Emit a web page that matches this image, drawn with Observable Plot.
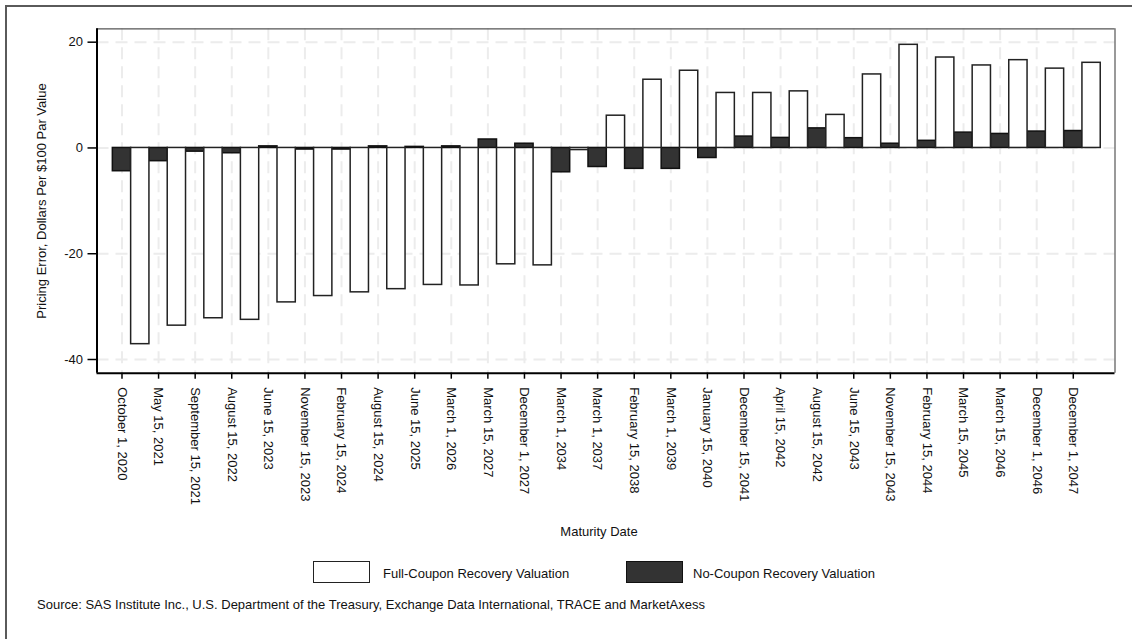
<!DOCTYPE html>
<html><head><meta charset="utf-8">
<script src="https://cdn.jsdelivr.net/npm/d3@7"></script>
<script src="https://cdn.jsdelivr.net/npm/@observablehq/plot@0.6"></script>
<style>
body{margin:0;background:#fff;font-family:"Liberation Sans",Arial,sans-serif;}
#wrap{position:relative;width:1132px;height:639px;overflow:hidden;background:#fff;}
#frame{position:absolute;left:5px;top:5px;width:1140px;height:700px;border-top:2px solid #5a5a5a;border-left:2px solid #5a5a5a;z-index:2;pointer-events:none;}
#chart{position:absolute;left:0;top:0;z-index:1;}
.t{position:absolute;font-size:13px;color:#111;white-space:nowrap;line-height:15px;}
.box{position:absolute;box-sizing:border-box;border:1.5px solid #222;}
</style></head>
<body><div id="wrap"><div id="frame"></div><div id="chart"></div><div id="extras"></div></div>
<script>
const dates = ["October 1, 2020","May 15, 2021","September 15, 2021","August 15, 2022","June 15, 2023","November 15, 2023","February 15, 2024","August 15, 2024","June 15, 2025","March 1, 2026","March 15, 2027","December 1, 2027","March 1, 2034","March 1, 2037","February 15, 2038","March 1, 2039","January 15, 2040","December 15, 2041","April 15, 2042","August 15, 2042","June 15, 2043","November 15, 2043","February 15, 2044","March 15, 2045","March 15, 2046","December 1, 2046","December 1, 2047"];
const fullCoupon = [-37.1,-33.6,-32.2,-32.5,-29.2,-28.0,-27.3,-26.7,-25.9,-26.0,-22.0,-22.2,-0.4,6.1,12.9,14.6,10.4,10.4,10.7,6.25,13.9,19.5,17.1,15.6,16.6,15.0,16.1];
const noCoupon = [-4.4,-2.5,-0.7,-1.0,0.3,-0.3,-0.3,0.3,0.2,0.3,1.6,0.8,-4.6,-3.6,-3.95,-3.95,-1.9,2.15,1.9,3.7,1.85,0.8,1.35,2.9,2.65,3.1,3.2];
const seriesNames = ["Full-Coupon Recovery Valuation","No-Coupon Recovery Valuation"];
const yTicks = [-40,-20,0,20];
const yTitle = "Pricing Error, Dollars Per $100 Par Value";
const xTitle = "Maturity Date";
const source = "Source: SAS Institute Inc., U.S. Department of the Treasury, Exchange Data International, TRACE and MarketAxess";

const idx = d3.range(dates.length);
const xDom = [-0.683, 27.14];
const yDom = [-42.59, 22.53];
const W = 1132, H = 520;

const chart = Plot.plot({
  width: W, height: H,
  marginLeft: 96.5, marginRight: W - 1114.5, marginTop: 28.3, marginBottom: H - 372.7,
  x: {type: "linear", domain: xDom},
  y: {domain: yDom},
  style: {fontFamily: "'Liberation Sans', Arial, sans-serif", fontSize: "13px", background: "transparent", color: "#111", overflow: "visible"},
  marks: [
    Plot.gridY(yTicks, {stroke: "#ececec", strokeOpacity: 1, strokeWidth: 2, strokeDasharray: "12,7"}),
    Plot.gridX(idx, {stroke: "#ececec", strokeOpacity: 1, strokeWidth: 2, strokeDasharray: "12,7"}),
    Plot.rectY(idx, {x1: i => i - 0.25, x2: i => i + 0.25, y1: 0, y2: i => noCoupon[i], fill: "#333", stroke: "#111", strokeWidth: 1.5}),
    Plot.rectY(idx, {x1: i => i + 0.25, x2: i => i + 0.75, y1: 0, y2: i => fullCoupon[i], fill: "#fff", stroke: "#222", strokeWidth: 1.5}),
    Plot.ruleY([yDom[1]], {stroke: "#555", strokeWidth: 1.2}),
    Plot.ruleX([xDom[1]], {stroke: "#555", strokeWidth: 1.2}),
    Plot.ruleX([xDom[0]], {stroke: "#000", strokeWidth: 2}),
    Plot.ruleY([yDom[0]], {stroke: "#000", strokeWidth: 2}),
    Plot.axisY(yTicks, {tickSize: 9, tickPadding: 5, tickFormat: d => String(d), label: null, stroke: "#000", strokeWidth: 1.5, fill: "#111", fontSize: 13}),
    Plot.axisX(idx, {tickFormat: i => dates[i], tickRotate: 90, tickSize: 6, tickPadding: 8, label: null, stroke: "#000", strokeWidth: 1.5, fill: "#111", fontSize: 13}),
    Plot.text([yTitle], {frameAnchor: "left", dx: -55, rotate: -90, textAnchor: "middle", fill: "#111", fontSize: 13})
  ]
});
document.getElementById("chart").appendChild(chart);

const ex = document.getElementById("extras");
function add(html){ ex.insertAdjacentHTML("beforeend", html); }
add(`<div class="t" style="left:599px;top:524px;transform:translateX(-50%)">${xTitle}</div>`);
add(`<div class="box" style="left:313px;top:561px;width:57px;height:22px;background:#fff"></div>`);
add(`<div class="t" style="left:383px;top:566px">${seriesNames[0]}</div>`);
add(`<div class="box" style="left:626px;top:561px;width:57px;height:22px;background:#333;border-color:#111"></div>`);
add(`<div class="t" style="left:693px;top:566px">${seriesNames[1]}</div>`);
add(`<div class="t" style="left:37px;top:597px">${source}</div>`);
</script>
</body></html>
